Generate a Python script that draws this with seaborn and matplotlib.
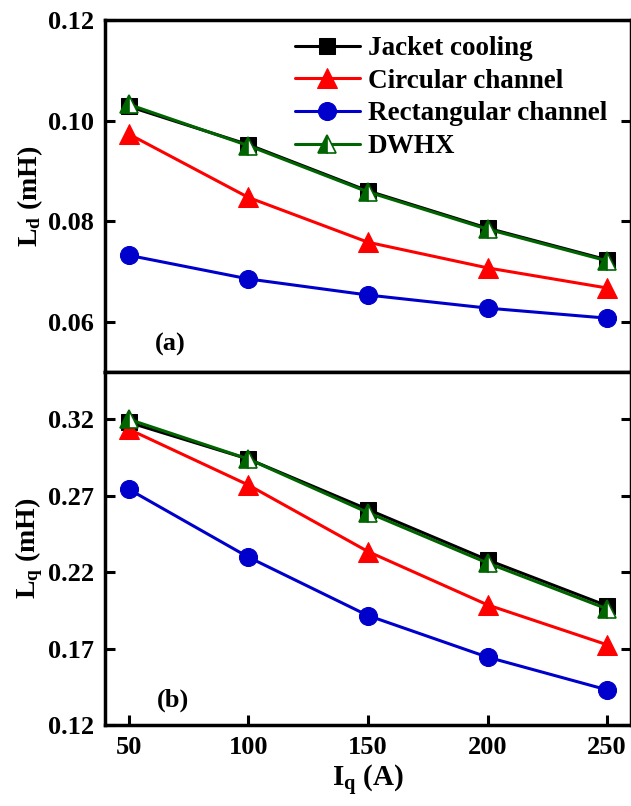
import matplotlib
matplotlib.use('Agg')
import matplotlib.pyplot as plt
import pandas as pd
import seaborn as sns

# current values (A)
current = [50, 100, 150, 200, 250]

# d-axis inductance (mH)
ld_jacket = [0.1028, 0.0952, 0.0860, 0.0786, 0.0723]
ld_circular = [0.0973, 0.0847, 0.0758, 0.0707, 0.0667]
ld_rect = [0.0732, 0.0685, 0.0653, 0.0627, 0.0607]
ld_dwhx = [0.1032, 0.0950, 0.0858, 0.0784, 0.0721]

# q-axis inductance (mH)
lq_jacket = [0.318, 0.294, 0.261, 0.228, 0.198]
lq_circular = [0.3135, 0.277, 0.2335, 0.1986, 0.1725]
lq_rect = [0.2742, 0.2298, 0.1916, 0.1644, 0.143]
lq_dwhx = [0.320, 0.294, 0.259, 0.226, 0.196]

names = ["Jacket cooling", "Circular channel", "Rectangular channel", "DWHX"]

sns.set_style("white")
plt.rcParams['font.family'] = ['Liberation Serif', 'DejaVu Serif']
plt.rcParams['font.weight'] = 'bold'
plt.rcParams['mathtext.fontset'] = 'custom'
plt.rcParams['mathtext.rm'] = 'Liberation Serif:bold'
plt.rcParams['mathtext.it'] = 'Liberation Serif:bold'
plt.rcParams['mathtext.bf'] = 'Liberation Serif:bold'
for key in ['text.color', 'axes.labelcolor', 'xtick.color', 'ytick.color']:
    plt.rcParams[key] = 'black'

styles = {
    "Jacket cooling": dict(color="black", marker="s", markersize=11, markerfacecolor="black",
                           markeredgecolor="black"),
    "Circular channel": dict(color="red", marker="^", markersize=14, markerfacecolor="red",
                             markeredgecolor="red"),
    "Rectangular channel": dict(color="#0000cc", marker="o", markersize=13,
                                markerfacecolor="#0000cc", markeredgecolor="#0000cc"),
    "DWHX": dict(color="#006400", marker="^", markersize=13, markerfacecolor="#006400",
                 markerfacecoloralt="white", fillstyle="left", markeredgecolor="#006400",
                 markeredgewidth=1.2),
}


def make_df(jacket, circ, rect, dwhx):
    rows = []
    for name, vals in zip(names, [jacket, circ, rect, dwhx]):
        for x, y in zip(current, vals):
            rows.append({"I": x, "L": y, "type": name})
    return pd.DataFrame(rows)


def draw_panel(ax, df):
    for name in names:
        sub = df[df["type"] == name]
        sns.lineplot(data=sub, x="I", y="L", ax=ax, linewidth=2.2, label=name,
                     legend=False, **styles[name])
    for side in ["left", "right", "top", "bottom"]:
        ax.spines[side].set_linewidth(2.5)
        ax.spines[side].set_color("black")
    ax.tick_params(axis="both", direction="in", length=7, width=2.2, labelsize=19, pad=8,
                   left=True, right=True, bottom=True, top=False, colors="black")
    ax.set_xlim(40, 260)
    ax.set_xlabel("")


fig = plt.figure(figsize=(6.31, 8.06), dpi=100)
ax1 = fig.add_axes([0.1664, 0.5385, 0.8336, 0.4367])
ax2 = fig.add_axes([0.1664, 0.1005, 0.8336, 0.4380], sharex=ax1)

draw_panel(ax1, make_df(ld_jacket, ld_circular, ld_rect, ld_dwhx))
draw_panel(ax2, make_df(lq_jacket, lq_circular, lq_rect, lq_dwhx))

ax1.set_ylim(0.05, 0.12)
ax1.set_yticks([0.06, 0.08, 0.10, 0.12])
ax1.set_yticklabels(["0.06", "0.08", "0.10", "0.12"])
ax1.tick_params(axis="x", bottom=False, labelbottom=False)
ax1.set_ylabel("L$_{\\mathrm{d}}$ (mH)", fontsize=20, fontweight="bold", labelpad=2)

ax2.set_ylim(0.12, 0.351)
ax2.set_yticks([0.12, 0.17, 0.22, 0.27, 0.32])
ax2.set_yticklabels(["0.12", "0.17", "0.22", "0.27", "0.32"])
ax2.set_xticks(current)
ax2.set_ylabel("L$_{\\mathrm{q}}$ (mH)", fontsize=20, fontweight="bold", labelpad=2)
ax2.set_xlabel("I$_{\\mathrm{q}}$ (A)", fontsize=21, fontweight="bold", labelpad=3)

ax1.text(0.125, 0.077, "(a)", transform=ax1.transAxes, fontsize=19, fontweight="bold",
         ha="center", va="center")
ax2.text(0.129, 0.071, "(b)", transform=ax2.transAxes, fontsize=19, fontweight="bold",
         ha="center", va="center")

ax1.legend(loc="upper left", bbox_to_anchor=(0.33, 1.0), frameon=False, fontsize=19.5,
           handlelength=2.4, handletextpad=0.3, labelspacing=0.28, borderaxespad=0.2)

fig.savefig("out.png", dpi=100)
